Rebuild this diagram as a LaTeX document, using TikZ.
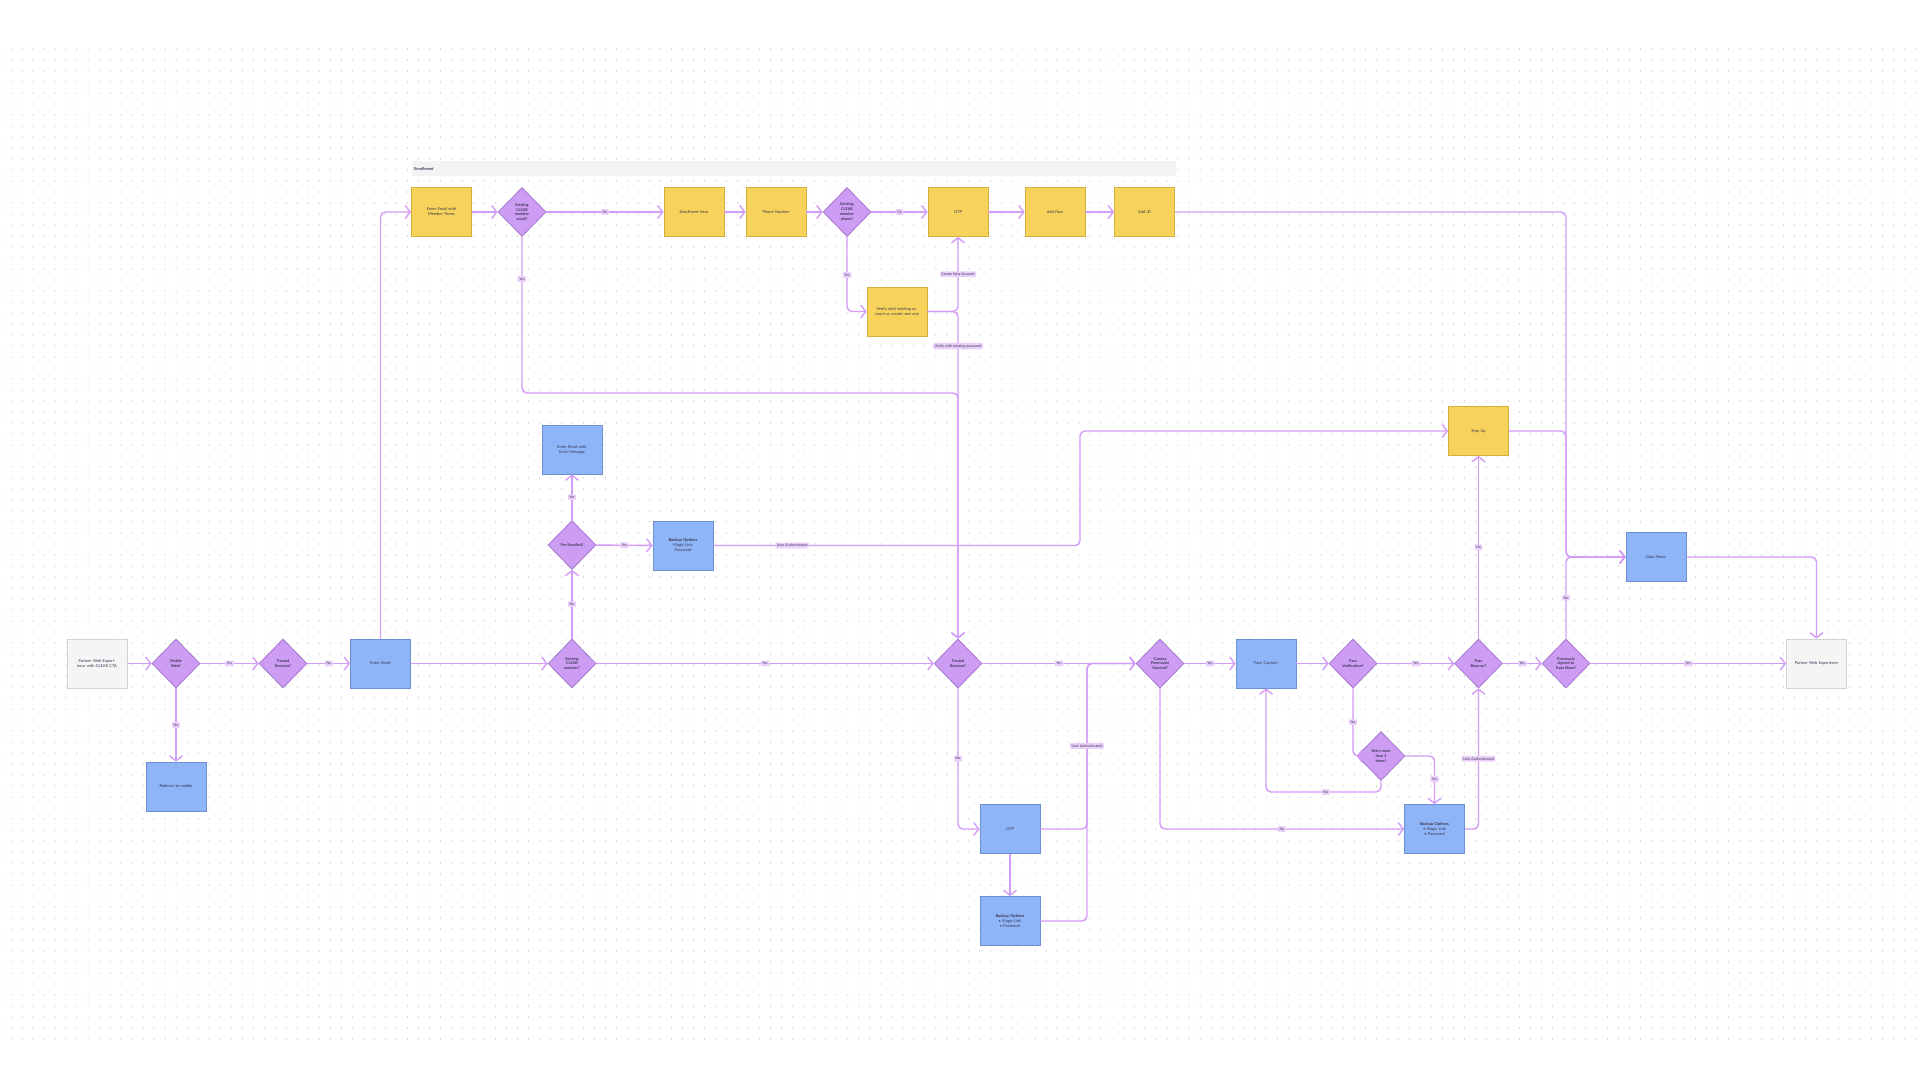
\documentclass[tikz,border=0pt]{standalone}
\usepackage{fontspec}
\setmainfont{Lato}
\usetikzlibrary{shapes.geometric,arrows.meta}
\definecolor{yfill}{HTML}{F8D35B}
\definecolor{ydraw}{HTML}{D6B03C}
\definecolor{bfill}{HTML}{8EB5F7}
\definecolor{bdraw}{HTML}{6C8FD6}
\definecolor{pfill}{HTML}{CD9DF4}
\definecolor{pdraw}{HTML}{A677CF}
\definecolor{gfill}{HTML}{F5F5F5}
\definecolor{gdraw}{HTML}{D2D2D2}
\definecolor{lnc}{HTML}{D29CF8}
\definecolor{lblf}{HTML}{EBCFFB}
\definecolor{txt}{HTML}{3A3450}
\definecolor{dotc}{HTML}{D6D6D6}
\definecolor{bandc}{HTML}{F3F3F3}
\tikzset{
  nbox/.style={rectangle, line width=0.8pt, minimum width=60pt, minimum height=49pt, inner sep=1pt, text width=52pt, align=center, font=\fontsize{4}{5}\selectfont, text=txt},
  ybox/.style={nbox, draw=ydraw, fill=yfill},
  bbox/.style={nbox, draw=bdraw, fill=bfill},
  gbox/.style={nbox, draw=gdraw, fill=gfill},
  dia/.style={diamond, aspect=1, draw=pdraw, fill=pfill, line width=0.8pt, minimum width=48pt, minimum height=49pt, inner sep=0pt},
  dtext/.style={align=center, font=\fontsize{3.8}{4.8}\selectfont\bfseries, text=txt, inner sep=0pt},
  conn/.style={draw=lnc, line width=1.4pt, rounded corners=5pt, -{Straight Barb[length=5pt,width=13pt,line width=1.4pt]}},
  lbl/.style={fill=lblf, rounded corners=1pt, inner sep=1.6pt, font=\fontsize{3.6}{4.2}\selectfont, text=txt},
}
\newcommand\dnode[3]{\node[dia,label={[dtext]center:{#3}}] (#1) at (#2) {};}
\begin{document}
\begin{tikzpicture}[x=1pt,y=-1pt]
\useasboundingbox[fill=white] (0,0) rectangle (1920,1080);
% dot grid
\foreach \yy in {49,60,...,1039}
  \draw[dotc, line width=1.3pt, line cap=round, dash pattern=on 0.01pt off 11pt] (0,\yy) -- (1920,\yy);

% header band
\node[fill=bandc, minimum width=764pt, minimum height=15pt, anchor=north west, inner sep=2pt, text width=760pt, align=left, font=\fontsize{4}{5}\selectfont\bfseries, text=txt] (band) at (412,161) {Enrollment};

% boxes
\node[gbox] (start) at (97,663.5) {Partner Web Experience with CLEAR CTA};
\node[bbox] (redirect) at (176,786.5) {Redirect to mobile};
\node[bbox] (email) at (380.5,663.5) {Enter Email};
\node[ybox] (terms) at (441.5,212) {Enter Email with Member Terms};
\node[ybox] (intro) at (694,212) {Enrollment Intro};
\node[ybox] (phone) at (776,212) {Phone Number};
\node[ybox] (otp1) at (958,212) {OTP};
\node[ybox] (addface) at (1055,212) {Add Face};
\node[ybox] (addid) at (1144.5,212) {Add ID};
\node[ybox] (verify) at (897,311.5) {Verify with existing account or create new one};
\node[bbox] (err) at (572,449.5) {Enter Email with Error Message};
\node[bbox] (backup1) at (683,545.5) {\textbf{Backup Options}\\Magic Link\\Password};
\node[ybox] (stepup) at (1478.5,431) {Step Up};
\node[bbox] (datashare) at (1656,557) {Data Share};
\node[gbox] (endn) at (1816.5,663.5) {Partner Web Experience};
\node[bbox] (capture) at (1266,663.5) {Face Capture};
\node[bbox] (otp2) at (1010,829) {OTP};
\node[bbox] (backup2) at (1010,921) {\textbf{Backup Options}\\\textbullet\ Magic Link\\\textbullet\ Password};
\node[bbox] (backup3) at (1434.5,829) {\textbf{Backup Options}\\\textbullet\ Magic Link\\\textbullet\ Password};

% diamonds
\dnode{mobile}{176,663.5}{Mobile\\Web?}
\dnode{trusted1}{283,663.5}{Trusted\\Browser?}
\dnode{emailq}{522,212}{Existing\\CLEAR\\member\\email?}
\dnode{phoneq}{847,212}{Existing\\CLEAR\\member\\phone?}
\dnode{pre}{572,545}{Pre-Enrolled?}
\dnode{memberq}{572,663.5}{Existing\\CLEAR\\member?}
\dnode{trusted2}{958,663.5}{Trusted\\Browser?}
\dnode{camera}{1160,663.5}{Camera\\Permission\\Granted?}
\dnode{passver}{1353,663.5}{Pass\\Verification?}
\dnode{retry}{1381,756}{Retry more\\than 3\\times?}
\dnode{bouncer}{1478.5,663.5}{Pass\\Bouncer?}
\dnode{prev}{1566,663.5}{Previously\\Agreed to\\Data Share?}

% helper coordinates
\coordinate (c1) at (958,393);
\coordinate (j) at (1566,557);
\coordinate (ua1) at (1080,545.5);
\coordinate (ua2) at (1087,663.5);
\coordinate (rl) at (1266,792);

% connectors
\draw[conn] (start) -- (mobile);
\draw[conn] (mobile) -- node[lbl]{Yes} (trusted1);
\draw[conn] (mobile) -- node[lbl]{No} (redirect);
\draw[conn] (trusted1) -- node[lbl]{No} (email);
\draw[conn] (email.north) |- (terms.west);
\draw[conn] (terms) -- (emailq);
\draw[conn] (emailq) -- node[lbl]{No} (intro);
\draw[conn] (intro) -- (phone);
\draw[conn] (phone) -- (phoneq);
\draw[conn] (phoneq) -- node[lbl]{No} (otp1);
\draw[conn] (otp1) -- (addface);
\draw[conn] (addface) -- (addid);
\draw[conn] (emailq.south) -- node[lbl,pos=0.27]{Yes} (emailq.south |- c1) -- (c1) -- (trusted2.north);
\draw[conn] (phoneq.south) -- node[lbl,pos=0.51]{Yes} (phoneq.south |- verify.west) -- (verify.west);
\draw[conn] (verify.east) -- (verify.east -| otp1.south) -- node[lbl]{Create New Account} (otp1.south);
\draw[conn] (verify.east) -- (verify.east -| trusted2.north) -- node[lbl,pos=0.106]{Verify with existing password} (trusted2.north);
\draw[conn] (addid.east) -| (j) -- (datashare.west);
\draw[conn] (stepup.east) -| (j) -- (datashare.west);
\draw[conn] (prev.north) -- node[lbl]{No} (j) -- (datashare.west);
\draw[conn] (prev) -- node[lbl]{Yes} (endn);
\draw[conn] (datashare.east) -| (endn.north);
\draw[conn] (bouncer) -- node[lbl]{No} (stepup);
\draw[conn] (bouncer) -- node[lbl]{Yes} (prev);
\draw[conn] (passver) -- node[lbl]{Yes} (bouncer);
\draw[conn] (capture) -- (passver);
\draw[conn] (camera) -- node[lbl]{Yes} (capture);
\draw[conn] (trusted2) -- node[lbl]{Yes} (camera);
\draw[conn] (memberq) -- node[lbl]{Yes} (trusted2);
\draw[conn] (email) -- (memberq);
\draw[conn] (memberq) -- node[lbl]{No} (pre);
\draw[conn] (pre) -- node[lbl]{No} (err);
\draw[conn] (pre) -- node[lbl]{Yes} (backup1);
\draw[conn] (backup1.east) -- node[lbl,pos=0.215]{User Authenticated} (ua1) |- (stepup.west);
\draw[conn] (trusted2.south) |- node[lbl,pos=0.25]{No} (otp2.west);
\draw[conn] (otp2.east) -| (ua2) -- (camera.west);
\draw[conn] (backup2.east) -| node[lbl,pos=0.84]{User Authenticated} (ua2) -- (camera.west);
\draw[conn] (otp2) -- (backup2);
\draw[conn] (camera.south) |- node[lbl,pos=0.75]{No} (backup3.west);
\draw[conn] (passver.south) |- node[lbl,pos=0.25]{No} (retry.west);
\draw[conn] (retry.south) |- node[lbl,pos=0.74]{No} (rl) -- (capture.south);
\draw[conn] (retry.east) -| node[lbl,pos=0.74]{Yes} (backup3.north);
\draw[conn] (backup3.east) -| node[lbl,pos=0.75]{User Authenticated} (bouncer.south);
\end{tikzpicture}
\end{document}
